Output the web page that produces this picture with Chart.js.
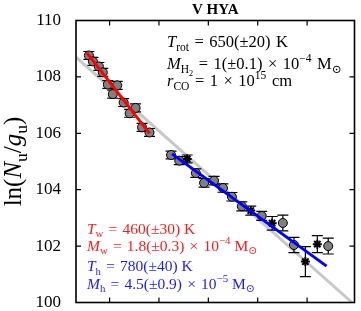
<!DOCTYPE html>
<html>
<head>
<meta charset="utf-8">
<script src="https://cdn.jsdelivr.net/npm/chart.js@4.4.1/dist/chart.umd.min.js"></script>
<style>
  body { margin: 0; background: #fff; }
</style>
</head>
<body>
<canvas id="myChart" width="361" height="311"></canvas>
<script>
// Rotation diagram data: upper level energy (K) vs ln(Nu/gu)
const warmE   = [581, 662, 783, 863, 964, 1155, 1064, 1285, 1527, 1406, 1657, 1808];
const warmLn  = [108.76, 108.55, 108.37, 108.16, 107.73, 107.70, 107.39, 107.09, 106.90, 106.71, 106.21, 106.03];
const warmErr = [0.14, 0.14, 0.14, 0.14, 0.14, 0.14, 0.14, 0.14, 0.14, 0.14, 0.14, 0.14];

const hotE   = [2245, 2411, 2747, 2914, 3115, 3296, 3477, 3678, 4081, 4509, 4734, 5428];
const hotLn  = [105.23, 105.03, 104.59, 104.24, 104.32, 104.06, 103.75, 103.41, 103.07, 102.82, 102.04, 102.00];
const hotErr = [0.14, 0.14, 0.15, 0.15, 0.15, 0.15, 0.15, 0.16, 0.16, 0.28, 0.27, 0.28];

const starE   = [2572, 3859, 4292, 4965, 5207];
const starLn  = [105.09, 103.26, 102.81, 101.45, 102.07];
const starErr = [0.14, 0.16, 0.24, 0.53, 0.30];

// fitted lines
const fitWarmE  = [541, 1808];
const fitWarmLn = [108.85, 106.00];
const fitHotE   = [2265, 5394];
const fitHotLn  = [105.27, 101.29];
const rotE  = [320, 5911];
const rotLn = [108.70, 100.00];

const xTicks = [1000, 2000, 3000, 4000, 5000];
const yTicks = [100, 102, 104, 106, 108, 110];

const titleText = 'V HYA';
const serif = '"Liberation Serif", "DejaVu Serif", serif';
const SP = '\u2004'; // a bit wider than a normal space, like mathtext around = and x

const pts = (xs, ys) => xs.map((x, i) => ({ x: x, y: ys[i] }));

// draw a line of text made of roman / italic / sub / sup pieces
function pieceFont(kind, size) {
    let fs = size, style = '';
    if (kind === 'i') style = 'italic ';
    if (kind === 'sub' || kind === 'sup') fs = size * 0.7;
    if (kind === 'subsub') fs = size * 0.5;
    return style + fs + 'px ' + serif;
}
function richWidth(ctx, parts, size) {
    let w = 0;
    parts.forEach(([txt, kind]) => {
        ctx.font = pieceFont(kind, size);
        w += ctx.measureText(txt).width;
    });
    return w;
}
function drawRich(ctx, x, y, parts, size, color) {
    let cx = x;
    ctx.fillStyle = color;
    ctx.textAlign = 'left';
    ctx.textBaseline = 'alphabetic';
    parts.forEach(([txt, kind]) => {
        let dy = 0;
        if (kind === 'sub') dy = size * 0.25;
        if (kind === 'subsub') dy = size * 0.4;
        if (kind === 'sup') dy = -size * 0.42;
        ctx.font = pieceFont(kind, size);
        ctx.fillText(txt, cx, y + dy);
        cx += ctx.measureText(txt).width;
    });
}

const infoBlack = [
    [['T', 'i'], ['rot', 'sub'], [SP + '=' + SP + '650(\u00b120)' + SP + 'K', 'r']],
    [['M', 'i'], ['H', 'sub'], ['2', 'subsub'], [SP + '=' + SP + '1(\u00b10.1)' + SP + '\u00d7' + SP + '10', 'r'], ['\u22124', 'sup'], [SP + 'M', 'r'], ['\u2299', 'sub']],
    [['r', 'i'], ['CO', 'sub'], [SP + '=' + SP + '1' + SP + '\u00d7' + SP + '10', 'r'], ['15', 'sup'], [SP + 'cm', 'r']]
];
const infoWarm = [
    [['T', 'i'], ['w', 'sub'], [SP + '=' + SP + '460(\u00b130) K', 'r']],
    [['M', 'i'], ['w', 'sub'], [SP + '=' + SP + '1.8(\u00b10.3)' + SP + '\u00d7' + SP + '10', 'r'], ['\u22124', 'sup'], [' M', 'r'], ['\u2299', 'sub']]
];
const infoHot = [
    [['T', 'i'], ['h', 'sub'], [SP + '=' + SP + '780(\u00b140) K', 'r']],
    [['M', 'i'], ['h', 'sub'], [SP + '=' + SP + '4.5(\u00b10.9)' + SP + '\u00d7' + SP + '10', 'r'], ['\u22125', 'sup'], [' M', 'r'], ['\u2299', 'sub']]
];
const yLabel = [['ln(', 'r'], ['N', 'i'], ['u', 'sub'], ['/', 'r'], ['g', 'i'], ['u', 'sub'], [')', 'r']];

// error bars, drawn right after the grey rotational line
const errorBars = {
    id: 'errorBars',
    afterDatasetDraw(chart, args) {
        if (args.index !== 0) return;
        const ctx = chart.ctx, xs = chart.scales.x, ys = chart.scales.y;
        ctx.save();
        ctx.strokeStyle = '#000';
        ctx.lineWidth = 1.2;
        const draw = (E, L, err) => {
            E.forEach((e, i) => {
                const px = xs.getPixelForValue(e);
                const top = ys.getPixelForValue(L[i] + err[i]);
                const bot = ys.getPixelForValue(L[i] - err[i]);
                ctx.beginPath();
                ctx.moveTo(px, top); ctx.lineTo(px, bot);
                ctx.moveTo(px - 5.5, top); ctx.lineTo(px + 5.5, top);
                ctx.moveTo(px - 5.5, bot); ctx.lineTo(px + 5.5, bot);
                ctx.stroke();
            });
        };
        draw(warmE, warmLn, warmErr);
        draw(hotE, hotLn, hotErr);
        draw(starE, starLn, starErr);
        ctx.restore();
    }
};

// frame, inward ticks, title, labels
const decorations = {
    id: 'decorations',
    afterDraw(chart) {
        const ctx = chart.ctx, a = chart.chartArea;
        const xs = chart.scales.x, ys = chart.scales.y;
        ctx.save();
        ctx.strokeStyle = '#000';
        ctx.lineWidth = 1.6;
        ctx.strokeRect(a.left, a.top, a.right - a.left, a.bottom - a.top);
        ctx.lineWidth = 1.2;
        ctx.beginPath();
        xTicks.forEach(v => {
            const px = xs.getPixelForValue(v);
            ctx.moveTo(px, a.bottom); ctx.lineTo(px, a.bottom - 5);
            ctx.moveTo(px, a.top); ctx.lineTo(px, a.top + 5);
        });
        yTicks.forEach(v => {
            const py = ys.getPixelForValue(v);
            ctx.moveTo(a.left, py); ctx.lineTo(a.left + 5, py);
            ctx.moveTo(a.right, py); ctx.lineTo(a.right - 5, py);
        });
        ctx.stroke();

        ctx.fillStyle = '#000';
        ctx.font = 'bold 15px ' + serif;
        ctx.textAlign = 'center';
        ctx.fillText(titleText, (a.left + a.right) / 2, 13.5);

        drawRich(ctx, 167, 46.5, infoBlack[0], 16.5, '#000');
        drawRich(ctx, 167, 69, infoBlack[1], 16.5, '#000');
        drawRich(ctx, 167, 85.5, infoBlack[2], 16.5, '#000');

        drawRich(ctx, 87, 233.5, infoWarm[0], 15.5, '#ff1a1a');
        drawRich(ctx, 87, 250.5, infoWarm[1], 15.5, '#ff1a1a');
        drawRich(ctx, 87, 271, infoHot[0], 15.5, '#1a1aff');
        drawRich(ctx, 87, 288.5, infoHot[1], 15.5, '#1a1aff');

        ctx.translate(21, (a.top + a.bottom) / 2);
        ctx.rotate(-Math.PI / 2);
        const w = richWidth(ctx, yLabel, 25);
        drawRich(ctx, -w / 2, 0, yLabel, 25, '#000');
        ctx.restore();
    }
};

const ctx = document.getElementById('myChart').getContext('2d');

const myChart = new Chart(ctx, {
    type: 'scatter',
    data: {
        datasets: [{
            type: 'line',
            data: pts(rotE, rotLn),
            borderColor: '#c8c8c8',
            borderWidth: 3,
            pointRadius: 0,
            order: 5
        }, {
            data: pts(warmE, warmLn).concat(pts(hotE, hotLn)),
            backgroundColor: '#808080',
            borderColor: '#000',
            borderWidth: 1,
            pointRadius: 4.5,
            order: 3
        }, {
            data: pts(starE, starLn),
            pointStyle: 'star',
            borderColor: '#000',
            borderWidth: 2,
            pointRadius: 4.5,
            order: 3
        }, {
            type: 'line',
            data: pts(fitWarmE, fitWarmLn),
            borderColor: '#ff0000',
            borderWidth: 3,
            pointRadius: 0,
            order: 1
        }, {
            type: 'line',
            data: pts(fitHotE, fitHotLn),
            borderColor: '#0000ff',
            borderWidth: 3,
            pointRadius: 0,
            order: 1
        }]
    },
    options: {
        responsive: false,
        animation: false,
        events: [],
        layout: { padding: { top: 20.5, right: 4.5, left: 0, bottom: 0 } },
        plugins: {
            legend: { display: false },
            tooltip: { enabled: false }
        },
        scales: {
            x: {
                type: 'linear',
                min: 320,
                max: 5960,
                grid: { display: false },
                border: { display: false },
                ticks: { display: false },
                afterFit: s => { s.height = 8.5; s.paddingLeft = 0; s.paddingRight = 0; }
            },
            y: {
                min: 100,
                max: 110,
                grid: { display: false, drawTicks: false },
                border: { display: false },
                afterBuildTicks: s => { s.ticks = yTicks.map(v => ({ value: v })); },
                ticks: {
                    color: '#000',
                    padding: 15,
                    font: { family: serif, size: 17 }
                },
                afterFit: s => { s.width = 76; s.paddingTop = 0; s.paddingBottom = 0; }
            }
        }
    },
    plugins: [errorBars, decorations]
});
</script>
</body>
</html>
